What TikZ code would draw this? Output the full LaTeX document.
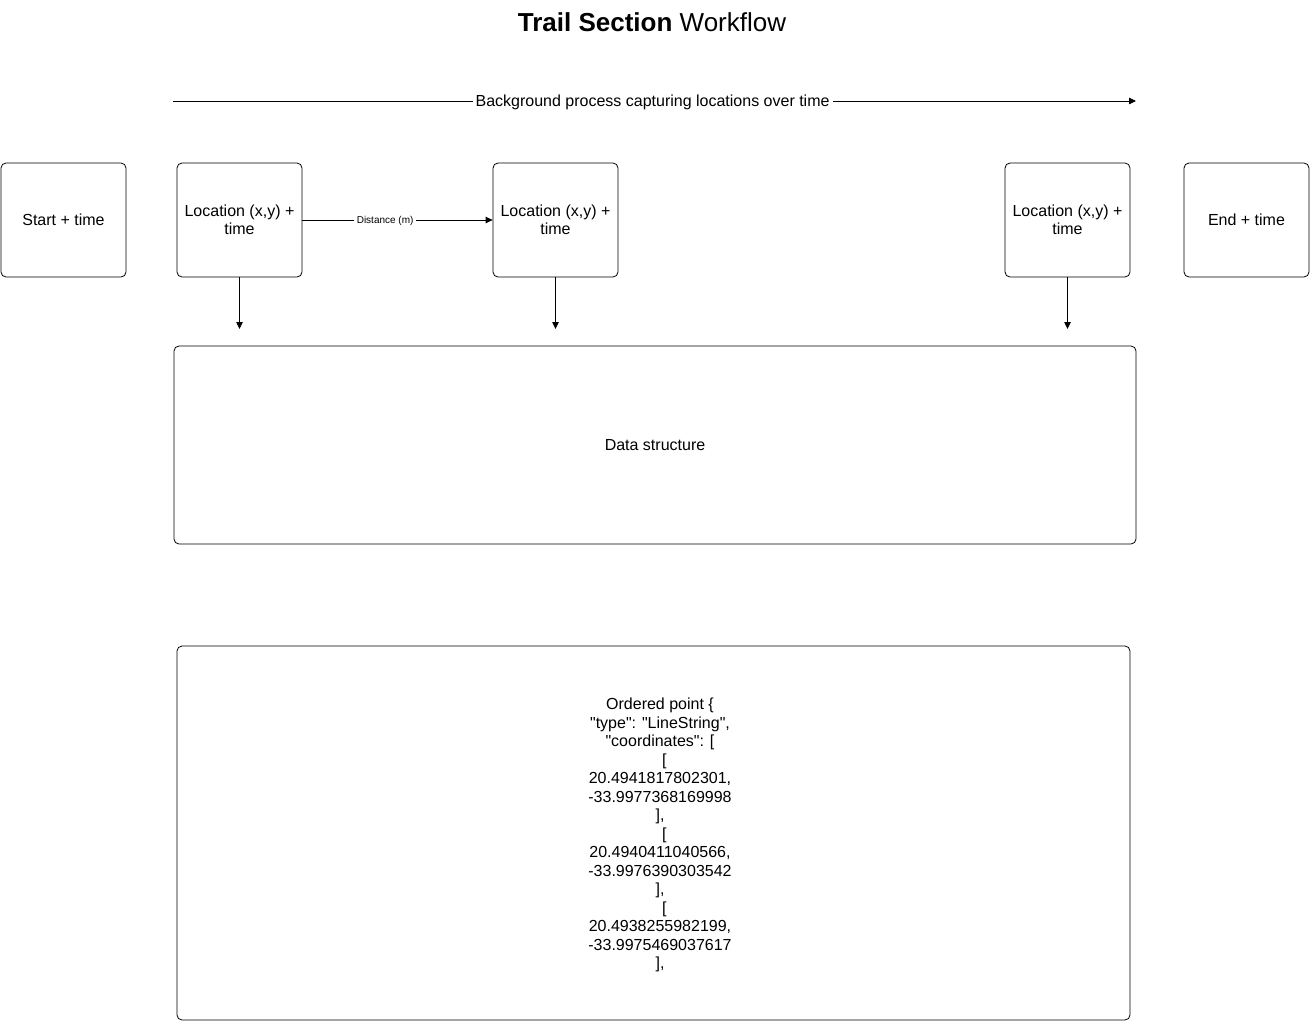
\documentclass[tikz,border=0pt]{standalone}
\usepackage{fontspec}
\setmainfont{Liberation Sans}[Ligatures=TeXOff]
\usetikzlibrary{arrows.meta}
\newcommand\qq{\symbol{34}}
\begin{document}
\begin{tikzpicture}[x=1pt,y=-1pt,
  box/.style={draw,line width=0.8pt,rounded corners=5pt,align=center,font=\fontsize{16}{18.5}\selectfont},
  arr/.style={line width=0.8pt,-{Triangle[length=7pt,width=6.5pt]}},
  lbl/.style={fill=white,inner sep=3pt}]
\useasboundingbox (0,0) rectangle (1310,1021);
\node (title) at (652,22) {\fontsize{26}{30}\selectfont\textbf{Trail Section} Workflow};
\coordinate (bgS) at (173,101);
\coordinate (bgE) at (1136,101);
\draw[arr] (bgS) -- node[pos=0.498,lbl,yshift=-1.2pt,font=\fontsize{16}{18}\selectfont] (bglbl) {Background process capturing locations over time} (bgE);
\node[box,minimum width=125pt,minimum height=114pt] (start) at (63.5,220) {Start + time};
\node[box,minimum width=125pt,minimum height=114pt] (loc1) at (239.5,220) {Location (x,y) +\\time};
\node[box,minimum width=125pt,minimum height=114pt] (loc2) at (555.5,220) {Location (x,y) +\\time};
\node[box,minimum width=125pt,minimum height=114pt] (loc3) at (1067.5,220) {Location (x,y) +\\time};
\node[box,minimum width=125pt,minimum height=114pt] (end) at (1246.5,220) {End + time};
\node[box,minimum width=962pt,minimum height=198pt] (data) at (655,445) {Data structure};
\node[box,minimum width=953pt,minimum height=374pt] (ord) at (653.5,833) {};
\node[align=center,font=\fontsize{16}{18.5}\selectfont] (ordtxt) at (660,835) {Ordered point \{\hspace{9pt}\\\qq type\qq: \qq LineString\qq,\\\qq coordinates\qq: [\\\phantom{0}[\\20.4941817802301,\\-33.9977368169998\\],\\\phantom{0}[\\20.4940411040566,\\-33.9976390303542\\],\\\phantom{0}[\\20.4938255982199,\\-33.9975469037617\\],};
\draw[arr] (loc1.east) -- node[pos=0.435,lbl,yshift=-0.8pt,font=\fontsize{10}{11}\selectfont] (dist) {Distance (m)} (loc2.west);
\coordinate (d1) at (239.5,329);
\coordinate (d2) at (555.5,329);
\coordinate (d3) at (1067.5,329);
\draw[arr] (loc1.south) -- (d1);
\draw[arr] (loc2.south) -- (d2);
\draw[arr] (loc3.south) -- (d3);
\end{tikzpicture}
\end{document}
